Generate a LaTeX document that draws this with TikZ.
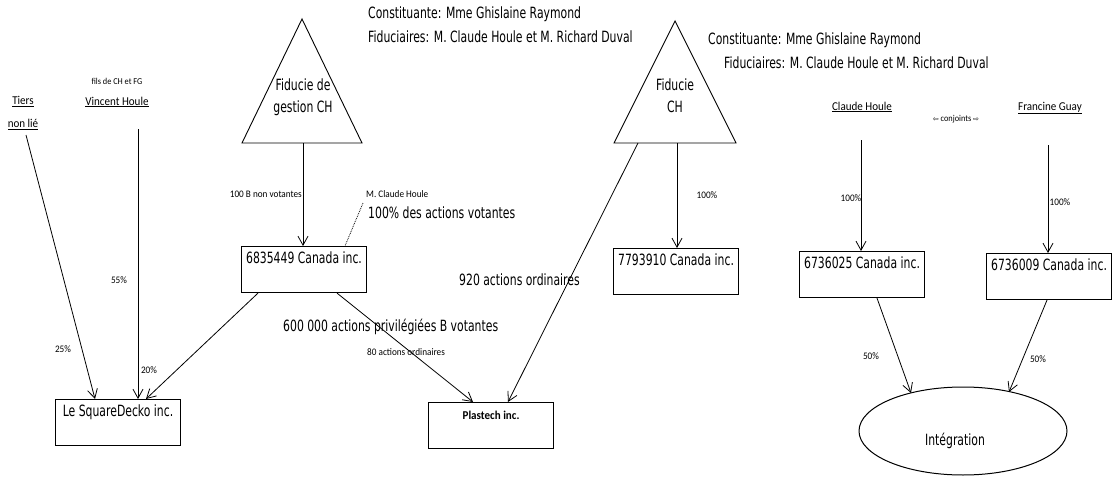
\documentclass[tikz,border=0pt]{standalone}
\usepackage{fontspec}
\usetikzlibrary{arrows.meta,shapes.geometric,calc}
\newfontfamily\vf[FakeStretch=0.7]{DejaVu Sans}
\newfontfamily\cf[FakeStretch=0.92]{Carlito}
\newfontfamily\df{DejaVu Sans}
\tikzset{
  box/.style={draw, line width=1.1pt, minimum width=125pt, inner xsep=2pt, inner ysep=5pt,
    text height=12pt, text depth=24pt, anchor=north west, font=\vf\fontsize{15.5}{17}\selectfont},
  big/.style={inner sep=0pt, font=\vf\fontsize{15.5}{17}\selectfont},
  bigc/.style={inner sep=0pt, align=center, font=\vf\fontsize{15.5}{22}\selectfont},
  small/.style={inner sep=0pt, font=\cf\fontsize{10}{12}\selectfont},
  person/.style={inner sep=0pt, align=center, font=\cf\fontsize{12}{23}\selectfont},
  conn/.style={line width=0.8pt},
  arr/.style={line width=0.8pt, -{Straight Barb[length=9pt,width=10pt]}},
  tri/.style={line width=0.9pt}
}
\begin{document}
\begin{tikzpicture}[x=1pt,y=-1pt]
\path[use as bounding box] (0,0) rectangle (1112,479);

% top texts
\node[big,anchor=west] (con1) at (368,14) {Constituante: Mme Ghislaine Raymond};
\node[big,anchor=west] (fid1) at (368,37) {Fiduciaires: M. Claude Houle et M. Richard Duval};
\node[big,anchor=west] (con2) at (708,40) {Constituante: Mme Ghislaine Raymond};
\node[big,anchor=west] (fid2) at (724,63) {Fiduciaires: M. Claude Houle et M. Richard Duval};

% triangles
\draw[tri] (302,19) -- (362,143) -- (242,143) -- cycle;
\node[bigc] (t1txt) at (303,97) {Fiducie de\\gestion CH};
\coordinate (t1b) at (303,143);
\draw[tri] (675,21) -- (736,143) -- (614,143) -- cycle;
\node[bigc] (t2txt) at (675,96) {Fiducie\\CH};
\coordinate (t2b) at (677,143);
\coordinate (t2l) at (638,143);

% persons
\node[person] (tiers) at (23,113) {\underline{Tiers}\\\underline{non lié}};
\node[inner sep=0pt,font=\cf\fontsize{9}{10}\selectfont] (fils) at (117,81) {fils de CH et FG};
\node[person] (vincent) at (117,102) {\underline{Vincent Houle}};
\node[person] (claude) at (862,107) {\underline{Claude Houle}};
\node[inner sep=0pt,font=\cf\fontsize{9}{10}\selectfont] (conj) at (956,119) {{\df\fontsize{7}{9}\selectfont ⇦} conjoints {\df\fontsize{7}{9}\selectfont ⇨}};
\node[person] (francine) at (1050,108) {\underline{Francine Guay}};
\coordinate (tiersout) at (26,135);
\coordinate (vincout) at (138,129);
\coordinate (claudeout) at (861,140);
\coordinate (franout) at (1048,145);

% boxes
\node[box] (sq) at (55,399) {Le SquareDecko inc.};
\node[box] (b68) at (241,246) {6835449 Canada inc.};
\node[box,font=\cf\bfseries\fontsize{12}{14}\selectfont] (pl) at (428,402) {Plastech inc.};
\node[box] (b77) at (613,248) {7793910 Canada inc.};
\node[box] (b25) at (799,251) {6736025 Canada inc.};
\node[box] (b09) at (986,253) {6736009 Canada inc.};

% ellipse
\node[draw, ellipse, line width=1pt, minimum width=208pt, minimum height=88pt, inner sep=0pt,
  label={[font=\vf\fontsize{15.5}{17}\selectfont, xshift=-8pt, yshift=-10pt]center:Intégration}] (integ) at (963,431) {};

% connectors
\draw[arr] (tiersout) -- ($(sq.north west)+(40,0)$);
\draw[arr] (vincout) -- ($(sq.north west)+(83,0)$);
\draw[arr] ($(b68.south west)+(17,0)$) -- ($(sq.north west)+(91,0)$);
\draw[arr] (t1b) -- ($(b68.north west)+(62,0)$);
\draw[arr] ($(b68.south west)+(96,0)$) -- ($(pl.north west)+(45,0)$);
\draw[arr] (t2l) -- ($(pl.north west)+(80,0)$);
\draw[arr] (t2b) -- ($(b77.north west)+(64,0)$);
\draw[arr] (claudeout) -- ($(b25.north west)+(62,0)$);
\draw[arr] (franout) -- ($(b09.north west)+(62,0)$);
\draw[arr] ($(b25.south west)+(78,0)$) -- ($(integ.center)+(-52,-38)$);
\draw[arr] ($(b09.south west)+(61,0)$) -- ($(integ.center)+(46,-39)$);
\coordinate (dotstart) at (363,203);
\draw[conn, densely dotted] (dotstart) -- ($(b68.north west)+(104,0)$);

% labels
\node[small] (l25) at (63,349) {25\%};
\node[small] (l55) at (119,280) {55\%};
\node[small] (l20) at (149,370) {20\%};
\node[small,anchor=east] (l100b) at (302,194) {100 B non votantes};
\node[small,anchor=west] (lmch) at (366,194) {M. Claude Houle};
\node[big,anchor=west] (l100v) at (368,213) {100\% des actions votantes};
\node[big,anchor=west] (l600) at (283,327) {600 000 actions privilégiées B votantes};
\node[small,anchor=west] (l80) at (367,352) {80 actions ordinaires};
\node[big,anchor=west] (l920) at (459,280) {920 actions ordinaires};
\node[small] (l100t) at (707,195) {100\%};
\node[small] (l100c) at (851,198) {100\%};
\node[small] (l100f) at (1060,202) {100\%};
\node[small] (l50a) at (871,356) {50\%};
\node[small] (l50b) at (1038,359) {50\%};
\end{tikzpicture}
\end{document}
